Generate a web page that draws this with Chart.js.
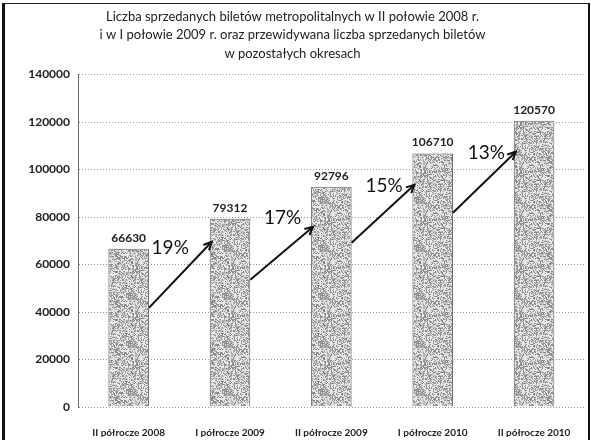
<!DOCTYPE html>
<html>
<head>
<meta charset="utf-8">
<script src="https://cdn.jsdelivr.net/npm/chart.js@4.4.1/dist/chart.umd.min.js"></script>
<style>
  html, body { margin: 0; padding: 0; background: #fff; }
  #wrap { position: relative; width: 591px; height: 440px; overflow: hidden; }
  #frame { position: absolute; left: 2px; top: 3px; width: 583px; height: 470px;
           border-left: 3px solid #111; border-top: 1px solid #222; border-right: 2px solid #111;
           pointer-events: none; }
</style>
</head>
<body>
<div id="wrap">
  <canvas id="c" width="591" height="440"></canvas>
  <div id="frame"></div>
</div>
<script>
const categories = ['II półrocze 2008', 'I półrocze 2009', 'II półrocze 2009', 'I półrocze 2010', 'II półrocze 2010'];
const ticketValues = [66630, 79312, 92796, 106710, 120570];
const growthLabels = ['19%', '17%', '15%', '13%'];
const arrowFromValues = [41750, 53550, 69160, 81800];
const arrowToValues = [69580, 75900, 93600, 107500];
const yTicks = [0, 20000, 40000, 60000, 80000, 100000, 120000, 140000];
const titleLines = [
  'Liczba sprzedanych biletów metropolitalnych w II połowie 2008 r.',
  'i w I połowie 2009 r. oraz przewidywana liczba sprzedanych biletów',
  'w pozostałych okresach'
];

// deterministic stipple texture for bars
function makePattern() {
  const N = 48;
  const p = document.createElement('canvas');
  p.width = N; p.height = N;
  const g = p.getContext('2d');
  const img = g.createImageData(N, N);
  let s = 12345;
  for (let y = 0; y < N; y++) {
    for (let x = 0; x < N; x++) {
      s = (s * 1103515245 + 12345) & 0x7fffffff;
      const r = (s >> 8) % 100;
      const v = r < 36 ? 140 : (r < 52 ? 190 : 232);
      const i = (y * N + x) * 4;
      img.data[i] = v; img.data[i + 1] = v; img.data[i + 2] = v; img.data[i + 3] = 255;
    }
  }
  g.putImageData(img, 0, 0);
  return document.getElementById('c').getContext('2d').createPattern(p, 'repeat');
}

const annotations = {
  id: 'annotations',
  afterDatasetsDraw(chart) {
    const ctx = chart.ctx;
    const xs = chart.scales.x, ys = chart.scales.y;
    const meta = chart.getDatasetMeta(0);
    const labelOffsets = [0.41, 0.52, 0.52, 0.53];
    ctx.save();
    ctx.fillStyle = '#222';
    ctx.font = 'bold 12px Lato';
    ctx.textAlign = 'center';
    ctx.textBaseline = 'middle';
    meta.data.forEach((bar, i) => {
      ctx.fillText(String(ticketValues[i]), bar.x, bar.y - 11);
    });
    ctx.strokeStyle = '#111';
    ctx.lineWidth = 2;
    arrowFromValues.forEach((v, i) => {
      const x1 = xs.getPixelForValue(i + 0.2);
      const y1 = ys.getPixelForValue(v);
      const x2 = xs.getPixelForValue(i + 0.82);
      const y2 = ys.getPixelForValue(arrowToValues[i]);
      ctx.beginPath();
      ctx.moveTo(x1, y1); ctx.lineTo(x2, y2); ctx.stroke();
      const a = Math.atan2(y2 - y1, x2 - x1);
      const L = 9;
      ctx.beginPath();
      ctx.moveTo(x2 - L * Math.cos(a - 0.45), y2 - L * Math.sin(a - 0.45));
      ctx.lineTo(x2, y2);
      ctx.lineTo(x2 - L * Math.cos(a + 0.45), y2 - L * Math.sin(a + 0.45));
      ctx.stroke();
    });
    ctx.fillStyle = '#111';
    ctx.font = '19px Lato';
    growthLabels.forEach((t, i) => {
      ctx.fillText(t, xs.getPixelForValue(i + labelOffsets[i]), ys.getPixelForValue(ticketValues[i] + 400));
    });
    ctx.restore();
  }
};

new Chart(document.getElementById('c'), {
  type: 'bar',
  data: {
    labels: categories,
    datasets: [{
      data: ticketValues,
      backgroundColor: makePattern(),
      borderColor: '#666',
      borderWidth: 1,
      barPercentage: 0.8,
      categoryPercentage: 0.5
    }]
  },
  options: {
    responsive: false,
    animation: false,
    layout: { padding: { left: 0, right: 6, top: 0, bottom: 3 } },
    plugins: {
      legend: { display: false },
      tooltip: { enabled: false },
      title: {
        display: true,
        text: titleLines,
        color: '#222',
        font: { family: 'Lato', size: 13, weight: 'normal', lineHeight: 1.45 },
        padding: { top: 7, bottom: 11 }
      }
    },
    scales: {
      x: {
        afterFit(s) { s.height = 30; },
        grid: { display: false, drawTicks: false },
        border: { display: false },
        ticks: { color: '#222', font: { family: 'Lato', size: 10, weight: 'bold' }, padding: 20, maxRotation: 0, autoSkip: false }
      },
      y: {
        min: 0, max: 140000,
        afterFit(s) { s.width = 78; },
        afterBuildTicks(s) { s.ticks = yTicks.map(v => ({ value: v })); },
        grid: { color: '#999', lineWidth: 1, drawTicks: false, borderDash: [1, 2] },
        border: { display: true, color: '#666', dash: [1, 2] },
        ticks: { color: '#222', font: { family: 'Lato', size: 12, weight: 'bold' }, padding: 8,
                 callback: v => String(v) }
      }
    }
  },
  plugins: [annotations]
});
</script>
</body>
</html>
